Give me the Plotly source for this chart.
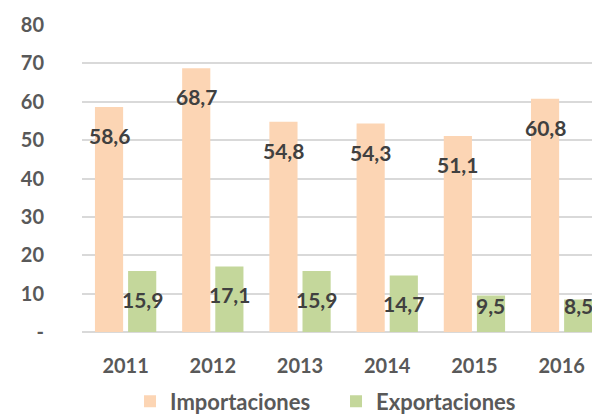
import plotly.graph_objects as go

years = ["2011", "2012", "2013", "2014", "2015", "2016"]
importaciones = [58.6, 68.7, 54.8, 54.3, 51.1, 60.8]
exportaciones = [15.9, 17.1, 15.9, 14.7, 9.5, 8.5]
y_ticks = [0, 10, 20, 30, 40, 50, 60, 70, 80]
y_tick_text = ["-", "10", "20", "30", "40", "50", "60", "70", "80"]

FONT = "Lato"
C_IMP = "#FCD5B4"
C_EXP = "#C4D79B"

def fmt(v):
    return f"{v:.1f}".replace(".", ",")

fig = go.Figure()
fig.add_trace(go.Bar(name="Importaciones", x=years, y=importaciones,
                     marker=dict(color=C_IMP, line=dict(width=0))))
fig.add_trace(go.Bar(name="Exportaciones", x=years, y=exportaciones,
                     marker=dict(color=C_EXP, line=dict(width=0))))

for series, shift in ((importaciones, -16.5), (exportaciones, 16.5)):
    for i, v in enumerate(series):
        fig.add_annotation(
            x=i, y=max(v - 7.4, 6.8), xref="x", yref="y",
            text="<b>" + fmt(v) + "</b>", showarrow=False, xshift=shift,
            xanchor="center", yanchor="middle",
            font=dict(family=FONT, size=21, color="#404040"),
        )

# page body has an 8px margin, so the figure is 8px smaller and margins shifted
fig.update_layout(
    width=592, height=409,
    margin=dict(l=74, r=0, t=17, b=85, autoexpand=False),
    paper_bgcolor="white", plot_bgcolor="white",
    barmode="group", bargap=0.24, bargroupgap=0.15,
    font=dict(family=FONT, size=20, color="#595959", weight="bold"),
    showlegend=True,
    legend=dict(orientation="h", x=0.0927, xanchor="left", y=-0.158, yanchor="top",
                font=dict(family=FONT, size=22, color="#595959", weight="bold"),
                itemwidth=30, entrywidth=161, entrywidthmode="pixels"),
    xaxis=dict(range=[-0.5, 5.44], showgrid=False, showline=False, zeroline=False,
               automargin=False, ticks="", ticklabelstandoff=20,
               tickfont=dict(family=FONT, size=20, color="#595959", weight="bold")),
    yaxis=dict(range=[0, 80], tickvals=y_ticks, ticktext=y_tick_text,
               showgrid=True, gridcolor="#D9D9D9", gridwidth=2,
               zeroline=True, zerolinecolor="#D9D9D9", zerolinewidth=2,
               automargin=False, showline=False, ticks="", ticklabelstandoff=37,
               tickfont=dict(family=FONT, size=20, color="#595959", weight="bold")),
)

fig.write_html("out.html")
